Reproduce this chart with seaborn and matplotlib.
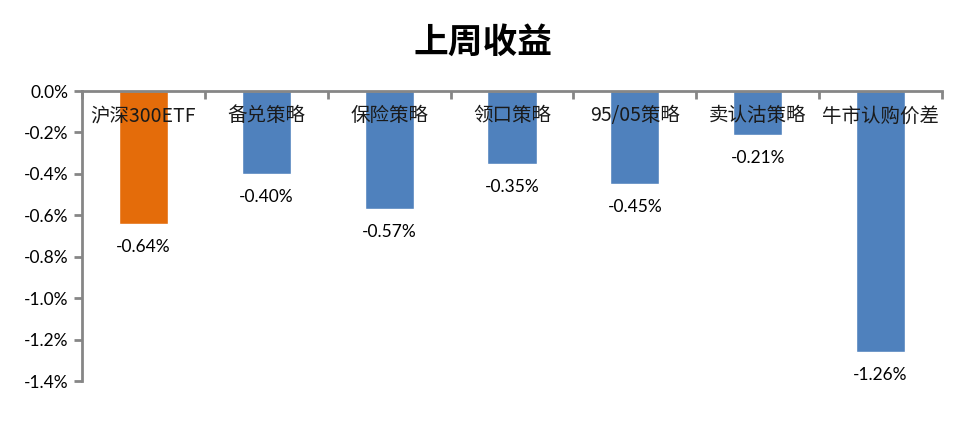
import matplotlib
matplotlib.use("Agg")
import matplotlib.pyplot as plt
import matplotlib.transforms as mtransforms
import seaborn as sns
import pandas as pd

categories = ["沪深300ETF", "备兑策略", "保险策略", "领口策略", "95/05策略", "卖认沽策略", "牛市认购价差"]
values = [-0.64, -0.40, -0.57, -0.35, -0.45, -0.21, -1.26]
groups = ["etf", "s", "s", "s", "s", "s", "s"]
title = "上周收益"
yticks = [0.0, -0.2, -0.4, -0.6, -0.8, -1.0, -1.2, -1.4]

sns.set_theme(style="white")
plt.rcParams["font.family"] = ["Noto Sans CJK SC", "DejaVu Sans"]
plt.rcParams["text.color"] = "black"
plt.rcParams["ytick.labelcolor"] = "black"

df = pd.DataFrame({"cat": categories, "val": values, "grp": groups})

fig = plt.figure(figsize=(9.66, 4.26), dpi=100)
ax = fig.add_axes([82/966, 45/426, 860/966, 290/426])

sns.barplot(data=df, x="cat", y="val", hue="grp",
            palette={"etf": "#E46C0A", "s": "#4F81BD"},
            dodge=False, width=0.4, legend=False, ax=ax, saturation=1)

ax.set_ylim(-1.4, 0)
ax.set_xlim(-0.5, len(categories) - 0.5)
ax.set_yticks(yticks)
ax.set_yticklabels([f"{v:.1f}%" for v in yticks], fontsize=12.5,
                   family=["Lato", "DejaVu Sans"], color="black")
ax.set_xlabel("")
ax.set_ylabel("")

# x-axis along the zero line at top
ax.xaxis.tick_top()
ax.set_xticks([i - 0.5 for i in range(len(categories) + 1)])
ax.set_xticklabels([])
ax.tick_params(axis="x", direction="in", length=6, width=2, color="#868686", top=True, bottom=False)
ax.tick_params(axis="y", direction="out", length=6, width=2, color="#868686", left=True, pad=4)

for side in ["right", "bottom"]:
    ax.spines[side].set_visible(False)
for side in ["left", "top"]:
    ax.spines[side].set_color("#868686")
    ax.spines[side].set_linewidth(2)

trans = mtransforms.blended_transform_factory(ax.transData, ax.transAxes)
for i, c in enumerate(categories):
    ax.text(i, 0.914, c, transform=trans, ha="center", va="center", fontsize=14,
            color="#1a1a1a", zorder=5)

for i, v in enumerate(values):
    ax.annotate(f"{v:.2f}%", (i, v), xytext=(0, -11), textcoords="offset points",
                ha="center", va="top", fontsize=12.5, family=["Lato", "DejaVu Sans"], color="black")

fig.text(0.5, 1 - 42/426, title, ha="center", va="center", fontsize=25, fontweight="bold", color="black")

fig.savefig("out.png", dpi=100, facecolor="white")
